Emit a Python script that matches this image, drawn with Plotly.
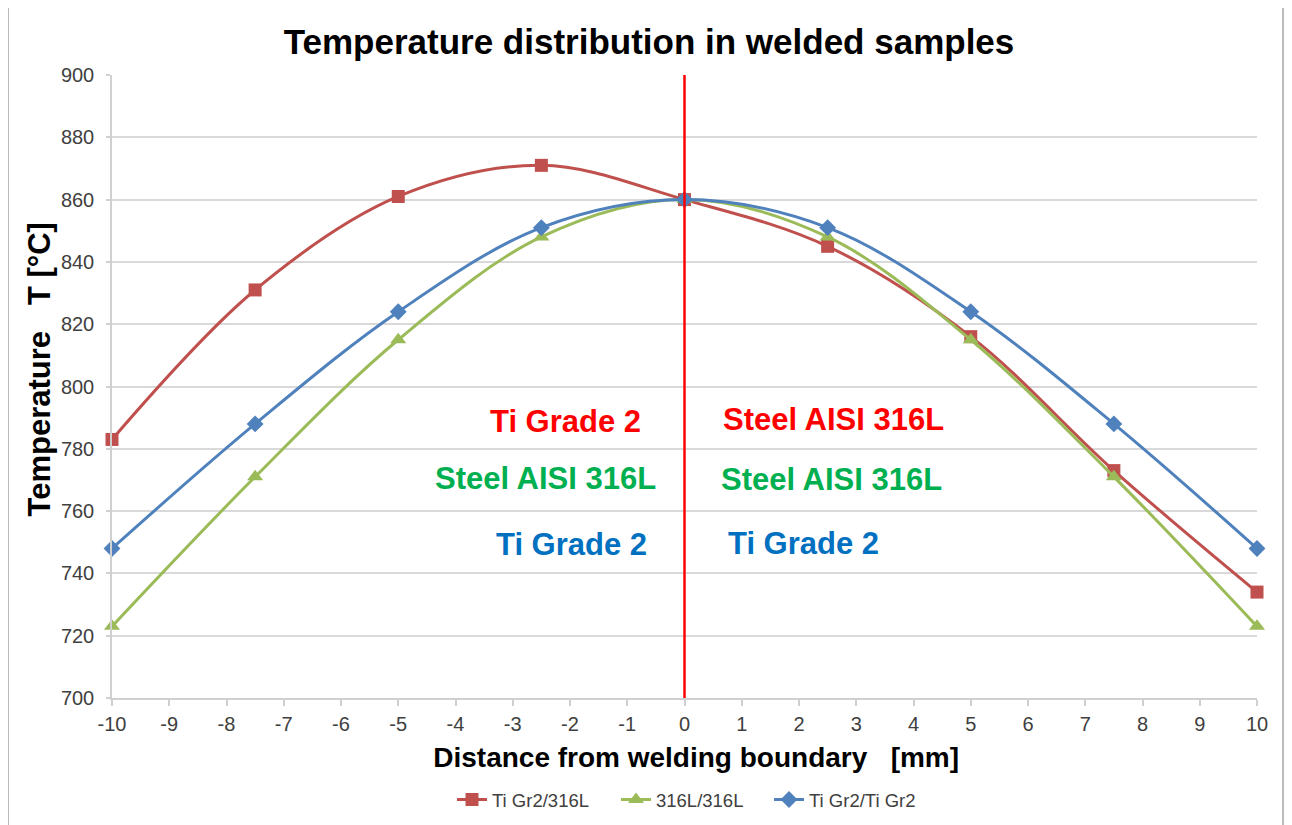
import plotly.graph_objects as go

# ---- data ----
distance_mm = [-10, -7.5, -5, -2.5, 0, 2.5, 5, 7.5, 10]
ti_316l = [783, 831, 861, 871, 860, 845, 816, 773, 734]
l316_316l = [723, 771, 815, 848, 860, 848, 815, 771, 723]
ti_ti = [748, 788, 824, 851, 860, 851, 824, 788, 748]

series_names = ["Ti Gr2/316L", "316L/316L", "Ti Gr2/Ti Gr2"]
boundary_x = 0

x_ticks = list(range(-10, 11))
y_ticks = list(range(700, 901, 20))

# material labels (text, x, y, colour)
label_text = ["Ti Grade 2", "Steel AISI 316L", "Ti Grade 2",
              "Steel AISI 316L", "Steel AISI 316L", "Ti Grade 2"]
label_x = [-2.08, -2.43, -1.97, 2.60, 2.57, 2.08]
label_y = [788.8, 770.5, 749.2, 789.4, 770.2, 749.6]
label_color = ["#FF0000", "#00B050", "#0070C0", "#FF0000", "#00B050", "#0070C0"]

FONT = "Liberation Sans, Arial, sans-serif"
NB = "\u00a0"

# page body has an 8px margin: figure is sized/offset to compensate
W, H = 1284, 817
PL, PT, PW, PH = 104, 67, 1145, 623   # plot area (in figure coords)

# legend entry left edges (page px) for each series
legend_px = [452, 616, 769]

fig = go.Figure()
styles = [
    (ti_316l, "#C0504D", "square", 13),
    (l316_316l, "#9BBB59", "triangle-up", 14),
    (ti_ti, "#4F81BD", "diamond", 13),
]
legend_ids = ["legend", "legend2", "legend3"]
for name, (vals, col, sym, sz), lid in zip(series_names, styles, legend_ids):
    fig.add_trace(go.Scatter(
        x=distance_mm, y=vals, name=name, mode="lines+markers",
        line=dict(color=col, width=3, shape="spline", smoothing=1.0),
        marker=dict(symbol=sym, size=sz, color=col),
        cliponaxis=False,
        legend=lid,
    ))

for t, x, y, c in zip(label_text, label_x, label_y, label_color):
    fig.add_annotation(x=x, y=y, text=f"<b>{t}</b>", showarrow=False,
                       font=dict(family=FONT, size=31, color=c),
                       xanchor="center", yanchor="middle")

# boundary line
fig.add_shape(type="line", x0=boundary_x, x1=boundary_x, xref="x",
              y0=0, y1=1, yref="paper",
              line=dict(color="#FF0000", width=2.5), layer="above")

# outer frame
fig.add_shape(type="rect", xref="paper", yref="paper",
              x0=(8 - 112) / PW, x1=(1283 - 112) / PW,
              y0=-0.3, y1=(698 - 6) / PH,
              line=dict(color="#A6A6A6", width=1.5), fillcolor="rgba(0,0,0,0)")

legend_common = dict(orientation="h", xanchor="left",
                     y=(698 - 800) / PH, yanchor="middle",
                     font=dict(family=FONT, size=18.5, color="#404040"),
                     bgcolor="rgba(0,0,0,0)")
legends = {lid: dict(legend_common, x=(px - 112) / PW)
           for lid, px in zip(legend_ids, legend_px)}

fig.update_layout(
    width=W, height=H,
    margin=dict(l=PL, r=W - PL - PW, t=PT, b=H - PT - PH, autoexpand=False),
    paper_bgcolor="white", plot_bgcolor="white",
    font=dict(family=FONT, color="#404040"),
    title=dict(text="<b>Temperature distribution in welded samples</b>",
               x=(649 - 8) / W, xanchor="center", y=1 - (42 - 8) / H, yanchor="middle",
               font=dict(family=FONT, size=35, color="black")),
    showlegend=True,
    **legends,
    xaxis=dict(range=[-10, 10], tickvals=x_ticks, ticktext=[str(v) for v in x_ticks],
               showgrid=False, zeroline=False, showline=True,
               linecolor="#D0D0D0", linewidth=1.5,
               ticks="outside", ticklen=6, tickcolor="#D0D0D0", tickwidth=1.5,
               ticklabelstandoff=1,
               tickfont=dict(family=FONT, size=20, color="#404040"),
               title=dict(text=f"<b>{NB*3}Distance from welding boundary{NB*3}[mm]</b>",
                          font=dict(family=FONT, size=28, color="black"), standoff=14)),
    yaxis=dict(range=[700, 900], tickvals=y_ticks, ticktext=[str(v) for v in y_ticks],
               showgrid=True, gridcolor="#D9D9D9", gridwidth=1.5, zeroline=False,
               showline=True, linecolor="#D0D0D0", linewidth=1.5,
               ticks="outside", ticklen=4, tickcolor="#D0D0D0", tickwidth=1.5,
               ticklabelstandoff=8,
               tickfont=dict(family=FONT, size=20, color="#404040"),
               title=dict(text=f"<b>{NB*4}Temperature{NB*3}T [°C]</b>",
                          font=dict(family=FONT, size=31, color="black"), standoff=1)),
)

fig.write_html("out.html")
